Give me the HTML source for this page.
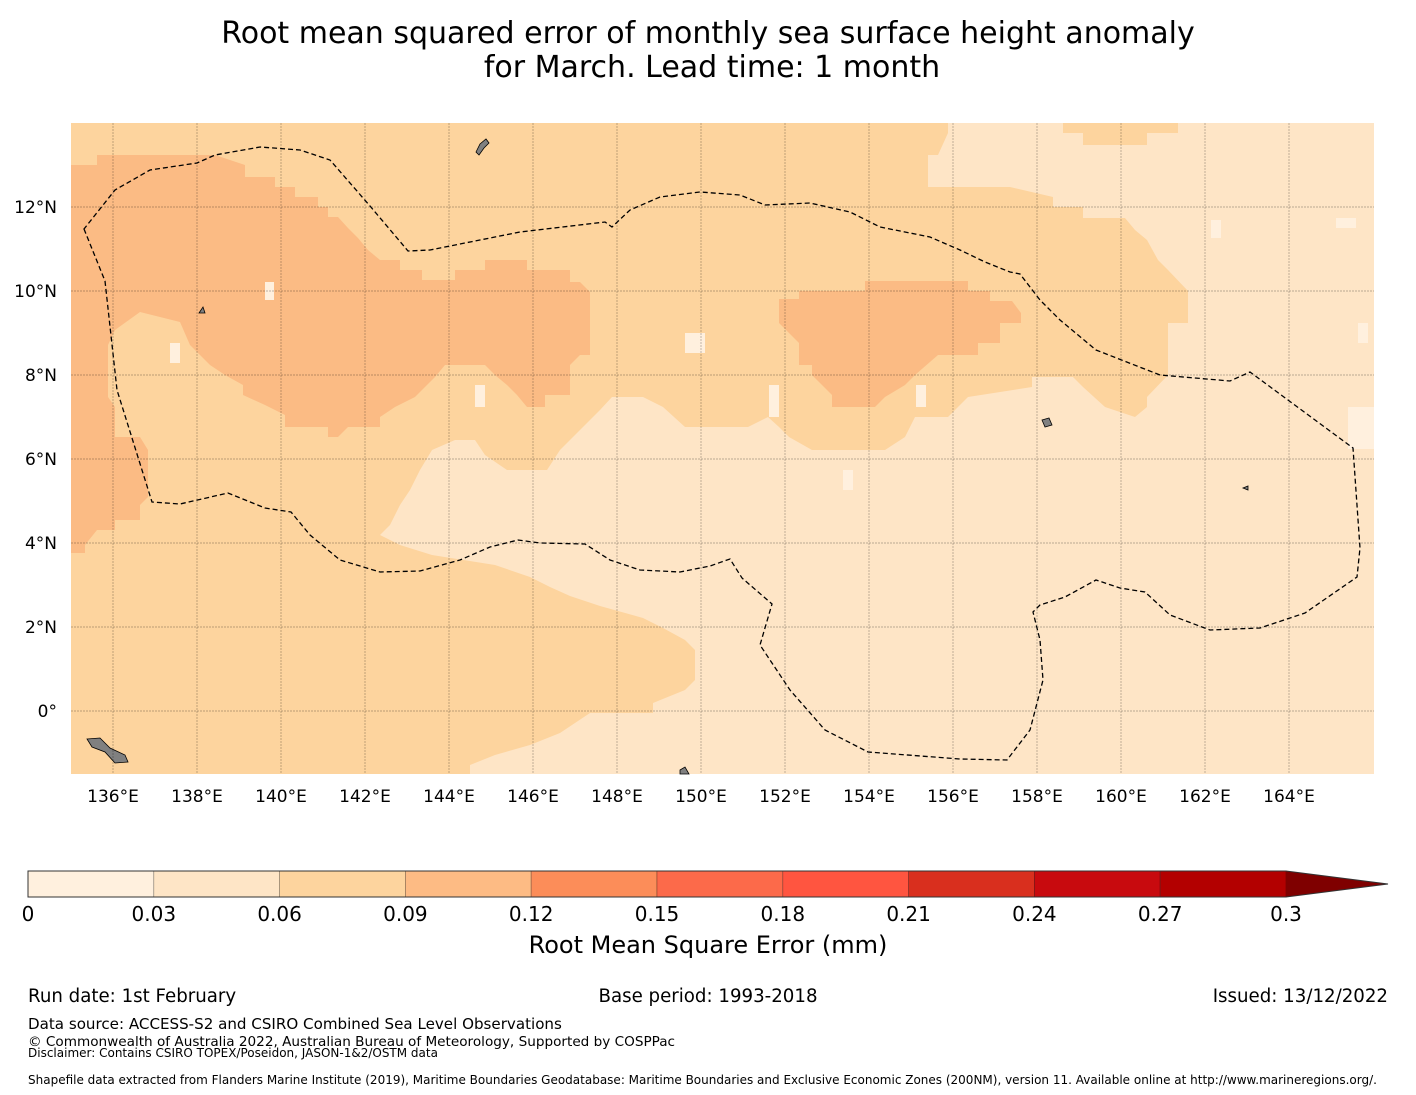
<!DOCTYPE html>
<html><head><meta charset="utf-8">
<style>
body{margin:0;background:#fff;width:1416px;height:1095px;overflow:hidden;font-family:"DejaVu Sans","Liberation Sans",sans-serif;}
svg{position:absolute;left:0;top:0}
</style></head>
<body>
<svg width="1416" height="1095">
<text x="708" y="43" text-anchor="middle" font-size="30" fill="#000">Root mean squared error of monthly sea surface height anomaly</text>
<text x="712" y="77" text-anchor="middle" font-size="30" fill="#000">for March. Lead time: 1 month</text>
<g id="map">
<rect x="71" y="123" width="1303" height="651" fill="#fdd49e"/>
<polygon fill="#fee5c6" points="948,123 1063,123 1063,133 1083,133 1083,145 1147,145 1147,133 1178,133 1178,123 1374,123 1374,774 470,774 470,765 495,755 530,745 560,733 590,713 653,713 653,703 685,690 695,680 695,650 685,640 663,628 643,618 600,606 570,596 550,587 530,577 495,565 432,555 400,545 380,535 390,525 400,505 410,490 420,470 432,450 455,440 475,440 485,455 507,470 547,470 560,450 580,430 600,410 612,397 643,397 663,407 685,427 748,427 768,417 779,427 789,437 812,450 885,450 905,437 915,417 948,417 968,397 1032,387 1032,377 1073,377 1083,387 1105,407 1135,417 1147,407 1147,397 1168,375 1168,323 1188,323 1188,291 1168,270 1158,260 1147,240 1135,230 1125,218 1083,218 1083,207 1053,207 1053,197 1010,187 928,187 928,155 938,155 948,133"/>
<polygon fill="#fbbb84" points="71,165 97,165 97,155 215,155 245,165 245,177 275,177 275,187 295,187 295,197 318,197 318,207 328,207 328,217 338,217 348,228 358,238 368,250 380,260 400,260 400,270 422,270 422,280 455,280 455,270 485,270 485,260 527,260 527,270 570,270 570,282 580,282 590,292 590,355 580,355 570,365 570,395 545,395 545,407 527,407 517,395 507,385 495,375 485,365 445,365 435,377 415,397 395,407 380,417 380,427 348,427 338,437 328,437 328,427 285,427 285,415 265,405 243,395 243,385 225,375 210,365 200,355 190,345 180,322 140,312 115,330 108,345 108,397 115,407 115,437 140,437 148,450 148,497 140,505 140,520 115,520 115,530 97,530 85,545 85,553 71,553"/>
<polygon fill="#fbbb84" points="779,299 799,299 799,291 865,291 865,281 968,281 968,291 990,291 990,301 1012,301 1021,313 1021,323 1000,323 1000,343 978,343 978,355 938,355 915,375 905,385 885,397 875,407 832,407 832,395 822,385 812,375 812,365 799,365 799,343 789,333 779,323"/>
<g fill="#fff0de">
<rect x="1211" y="220" width="10" height="18"/><rect x="1336" y="218" width="20" height="10"/><rect x="1358" y="323" width="10" height="20"/><rect x="1348" y="407" width="26" height="42"/>
<rect x="265" y="282" width="9" height="18"/><rect x="170" y="343" width="10" height="20"/><rect x="685" y="333" width="20" height="20"/><rect x="475" y="385" width="10" height="22"/><rect x="769" y="385" width="10" height="32"/><rect x="916" y="385" width="10" height="22"/><rect x="843" y="470" width="10" height="20"/>
</g>
<g fill="#808080" stroke="#000" stroke-width="0.8">
<path d="M476,152 L480,144 L486,139 L489,143 L484,148 L479,155Z"/>
<path d="M87,739 L100,738 L110,748 L125,755 L128,762 L115,763 L105,752 L92,747Z"/>
<path d="M1042,420 L1049,418 L1052,425 L1045,427Z"/>
<path d="M1243,488 L1248,486 L1248,490Z"/>
<path d="M680,770 L685,767 L689,774 L680,774Z"/>
<path d="M199,313 L203,307 L205,313Z"/>
</g>
<g id="grid" stroke="#000" stroke-opacity="0.35" stroke-width="0.7" stroke-dasharray="2,1"></g>
<path fill="none" stroke="#000" stroke-width="1.3" stroke-dasharray="5,3" d="M84,229 L105,281 L117,390 L152,502 L180,504 L228,493 L265,508 L291,512 L310,535 L340,560 L380,572 L420,571 L460,560 L490,547 L518,540 L540,543 L585,544 L610,560 L640,570 L680,572 L710,566 L730,559 L742,578 L772,604 L760,645 L790,690 L825,730 L868,752 L960,759 L1007,760 L1030,730 L1043,680 L1040,640 L1033,612 L1040,605 L1065,597 L1096,580 L1120,588 L1145,592 L1170,615 L1210,630 L1260,628 L1305,613 L1357,577 L1360,548 L1353,448 L1250,372 L1230,381 L1160,375 L1096,350 L1060,320 L1040,300 L1020,274 L1010,272 L985,262 L960,250 L930,237 L880,227 L850,212 L810,203 L765,205 L740,195 L700,192 L660,197 L630,210 L612,227 L605,222 L520,232 L430,250 L408,251 L370,206 L330,160 L300,150 L260,147 L215,155 L197,163 L150,170 L115,190 Z"/>
<g id="xlabels" font-size="17" fill="#000" text-anchor="middle"></g>
<g id="ylabels" font-size="17" fill="#000" text-anchor="end"></g>
</g>
<g id="cbar"></g>
<text x="708" y="953" text-anchor="middle" font-size="24">Root Mean Square Error (mm)</text>
<text x="28" y="1002" font-size="18.2">Run date: 1st February</text>
<text x="708" y="1002" text-anchor="middle" font-size="18.2">Base period: 1993-2018</text>
<text x="1388" y="1002" text-anchor="end" font-size="18.2">Issued: 13/12/2022</text>
<text x="28" y="1029" font-size="15.1">Data source: ACCESS-S2 and CSIRO Combined Sea Level Observations</text>
<text x="28" y="1046" font-size="13.6">© Commonwealth of Australia 2022, Australian Bureau of Meteorology, Supported by COSPPac</text>
<text x="28" y="1057" font-size="12">Disclaimer: Contains CSIRO TOPEX/Poseidon, JASON-1&amp;2/OSTM data</text>
<text x="28" y="1084" font-size="12">Shapefile data extracted from Flanders Marine Institute (2019), Maritime Boundaries Geodatabase: Maritime Boundaries and Exclusive Economic Zones (200NM), version 11. Available online at http://www.marineregions.org/.</text>
</svg>
<script>
const lonTicks=[136,138,140,142,144,146,148,150,152,154,156,158,160,162,164];
const latTicks=[0,2,4,6,8,10,12];
const cbBounds=[0,0.03,0.06,0.09,0.12,0.15,0.18,0.21,0.24,0.27,0.3];
const cbColors=["#fff0de","#fee5c6","#fdd49e","#fdbb84","#fc8d59","#fc6a4a","#ff5540","#d92f1e","#c80a0e","#b30000"];
const extendColor="#7f0000";
const NS="http://www.w3.org/2000/svg";
function xLon(l){return 71+(l-135)*42;}
function yLat(l){return 711-l*42;}
function cx(v){return 28+(v/0.3)*1258;}
function mk(t,a,p){const e=document.createElementNS(NS,t);for(const k in a)e.setAttribute(k,a[k]);p.appendChild(e);return e;}
const grid=document.getElementById('grid'),xl=document.getElementById('xlabels'),yl=document.getElementById('ylabels');
lonTicks.forEach(l=>{
 const ln=mk('line',{x1:xLon(l),x2:xLon(l),y1:123,y2:774},grid);
 
 
 const t=mk('text',{x:xLon(l),y:802},xl);t.textContent=l+'°E';
 
 
});
latTicks.forEach(l=>{
 const ln=mk('line',{x1:71,x2:1374,y1:yLat(l),y2:yLat(l)},grid);
 
 
 const t=mk('text',{x:57,y:yLat(l)+6},yl);t.textContent=l===0?'0°':l+'°N';
 
 
});
const cb=document.getElementById('cbar');
cbColors.forEach((c,i)=>{
 const r=mk('rect',{x:cx(cbBounds[i]),y:871,width:cx(cbBounds[i+1])-cx(cbBounds[i]),height:26,fill:c,stroke:'#000','stroke-opacity':0.3,'stroke-width':0.8},cb);
 
 
});
const ar=mk('polygon',{points:`${cx(0.3)},871 1388,884 ${cx(0.3)},897`,fill:extendColor},cb);


const ol=mk('path',{d:`M28,871 L${cx(0.3)},871 L1388,884 L${cx(0.3)},897 L28,897Z`,fill:'none',stroke:'#333','stroke-width':1},cb);


cbBounds.forEach(v=>{
 const t=mk('text',{x:cx(v),y:921,'text-anchor':'middle','font-size':20},cb);
 t.textContent=String(v);
 
 
});
</script>
</body></html>
